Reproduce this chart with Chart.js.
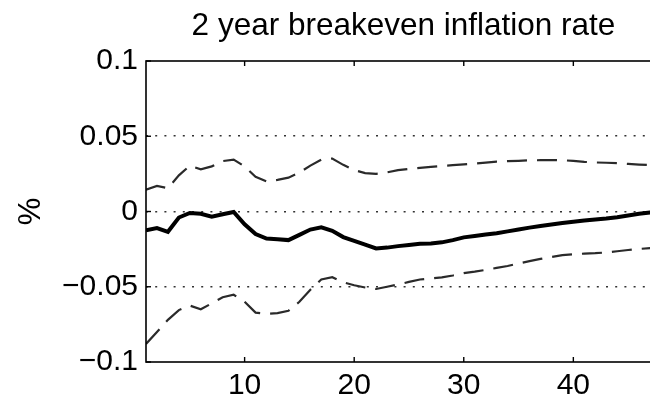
<!DOCTYPE html>
<html>
<head>
<meta charset="utf-8">
<script src="https://cdn.jsdelivr.net/npm/chart.js@4/dist/chart.umd.min.js"></script>
<style>
  html, body { margin: 0; padding: 0; background: #fff; overflow: hidden; }
  #wrap { position: absolute; left: 0; top: 0; width: 680px; height: 402px; }
</style>
</head>
<body>
<div id="wrap"><canvas id="c" width="680" height="402"></canvas></div>
<script>
// Horizon (periods after the shock)
const horizons = [1, 2, 3, 4, 5, 6, 7, 8, 9, 10, 11, 12, 13, 14, 15, 16, 17, 18, 19, 20,
  21, 22, 23, 24, 25, 26, 27, 28, 29, 30, 31, 32, 33, 34, 35, 36, 37, 38, 39, 40,
  41, 42, 43, 44, 45, 46, 47, 48];

// Median response of the 2 year breakeven inflation rate (%)
const medianResponse = [-0.0125, -0.011, -0.0135, -0.004, -0.001, -0.0015, -0.0035, -0.0018, -0.0003, -0.0085,
  -0.015, -0.018, -0.0185, -0.019, -0.0155, -0.012, -0.0105, -0.0128, -0.017, -0.0195,
  -0.022, -0.0245, -0.024, -0.023, -0.0222, -0.0215, -0.0212, -0.0205, -0.019, -0.0172,
  -0.0163, -0.0153, -0.0144, -0.0132, -0.0119, -0.0107, -0.0097, -0.0087, -0.0077, -0.0068,
  -0.006, -0.0053, -0.0047, -0.0038, -0.0027, -0.0015, -0.0007, 0.0];

// Upper confidence band
const upperBand = [0.0145, 0.017, 0.0155, 0.024, 0.0305, 0.028, 0.030, 0.0335, 0.0345, 0.030,
  0.023, 0.020, 0.021, 0.0225, 0.0258, 0.0305, 0.0345, 0.0352, 0.031, 0.0275,
  0.0255, 0.025, 0.026, 0.0275, 0.0283, 0.029, 0.0297, 0.0303, 0.0308, 0.0313,
  0.0318, 0.0325, 0.0332, 0.0335, 0.0337, 0.034, 0.0341, 0.0342, 0.0341, 0.0336,
  0.033, 0.0326, 0.0324, 0.0321, 0.0316, 0.0312, 0.0308, 0.0305];

// Lower confidence band
const lowerBand = [-0.088, -0.080, -0.072, -0.0655, -0.0625, -0.065, -0.061, -0.057, -0.0553, -0.060,
  -0.0672, -0.068, -0.0675, -0.066, -0.060, -0.052, -0.0452, -0.0437, -0.047, -0.049,
  -0.0505, -0.0515, -0.050, -0.0485, -0.0468, -0.0452, -0.0445, -0.0438, -0.0425, -0.041,
  -0.040, -0.0388, -0.0375, -0.0362, -0.0345, -0.033, -0.0315, -0.0302, -0.029, -0.0284,
  -0.028, -0.0277, -0.0272, -0.0264, -0.0256, -0.0249, -0.0243, -0.024];

// Axis ticks
const xTickValues = [10, 20, 30, 40];
const yTickValues = [-0.1, -0.05, 0, 0.05, 0.1];
const yTickLabels = ['\u22120.1', '\u22120.05', '0', '0.05', '0.1'];

const titleText = '2 year breakeven inflation rate';
const yAxisText = '%';
const FONT = '"Liberation Sans", Arial, Helvetica, sans-serif';

const toPoints = vals => horizons.map((h, i) => ({ x: h, y: vals[i] }));

// Box frame, inward tick marks, title and y-axis label
const decorations = {
  id: 'decorations',
  afterDatasetsDraw(chart) {
    const { ctx, chartArea: a, scales: { x, y } } = chart;
    ctx.save();
    ctx.strokeStyle = '#000';
    ctx.lineWidth = 1.6;
    ctx.setLineDash([]);
    ctx.strokeRect(a.left, a.top, a.right - a.left, a.bottom - a.top);
    ctx.lineWidth = 1.4;
    const seg = (x1, y1, x2, y2) => { ctx.beginPath(); ctx.moveTo(x1, y1); ctx.lineTo(x2, y2); ctx.stroke(); };
    xTickValues.forEach(v => {
      const px = x.getPixelForValue(v);
      seg(px, a.bottom, px, a.bottom - 5);
      seg(px, a.top, px, a.top + 5);
    });
    yTickValues.forEach(v => {
      const py = y.getPixelForValue(v);
      seg(a.left, py, a.left + 5, py);
      seg(a.right, py, a.right - 5, py);
    });
    ctx.restore();
  },
  afterDraw(chart) {
    const { ctx, chartArea: a } = chart;
    ctx.save();
    ctx.fillStyle = '#000';
    ctx.font = '31.5px ' + FONT;
    ctx.textAlign = 'center';
    ctx.textBaseline = 'alphabetic';
    ctx.fillText(titleText, (a.left + a.right) / 2, 35);
    ctx.font = '31px ' + FONT;
    ctx.translate(31.5, (a.top + a.bottom) / 2);
    ctx.rotate(-Math.PI / 2);
    ctx.textBaseline = 'middle';
    ctx.fillText(yAxisText, 0, 0);
    ctx.restore();
  }
};

new Chart(document.getElementById('c'), {
  type: 'line',
  data: {
    datasets: [
      {
        label: 'Upper band',
        data: toPoints(upperBand),
        borderColor: '#2a2a2a',
        borderWidth: 2.2,
        borderDash: [20, 10],
        pointRadius: 0,
        tension: 0,
        fill: false
      },
      {
        label: 'Lower band',
        data: toPoints(lowerBand),
        borderColor: '#2a2a2a',
        borderWidth: 2.2,
        borderDash: [20, 10],
        pointRadius: 0,
        tension: 0,
        fill: false
      },
      {
        label: 'Median',
        data: toPoints(medianResponse),
        borderColor: '#000',
        borderWidth: 4,
        pointRadius: 0,
        tension: 0,
        fill: false
      }
    ]
  },
  options: {
    responsive: false,
    animation: false,
    devicePixelRatio: 1,
    layout: { padding: { left: 0, top: 61, right: 19, bottom: 0 } },
    plugins: {
      legend: { display: false },
      title: { display: false },
      tooltip: { enabled: false }
    },
    scales: {
      x: {
        type: 'linear',
        min: 1,
        max: 48,
        afterFit: s => { s.height = 40; },
        afterBuildTicks: s => { s.ticks = xTickValues.map(v => ({ value: v })); },
        grid: { display: false, drawTicks: false },
        border: { display: false },
        ticks: {
          autoSkip: false,
          maxRotation: 0,
          padding: 6,
          color: '#000',
          font: { family: FONT, size: 30 },
          callback: v => String(v)
        }
      },
      y: {
        type: 'linear',
        min: -0.1,
        max: 0.1,
        afterFit: s => { s.width = 146; },
        afterBuildTicks: s => { s.ticks = yTickValues.map(v => ({ value: v })); },
        grid: {
          drawTicks: false,
          lineWidth: 1.5,
          color: c => (Math.abs(c.tick && c.tick.value) > 0.09 ? 'rgba(0,0,0,0)' : '#333')
        },
        border: { display: false, dash: [2, 7.2] },
        ticks: {
          padding: 8,
          color: '#000',
          font: { family: FONT, size: 30 },
          callback: v => yTickLabels[yTickValues.indexOf(v)] ?? ''
        }
      }
    }
  },
  plugins: [decorations]
});
</script>
</body>
</html>
